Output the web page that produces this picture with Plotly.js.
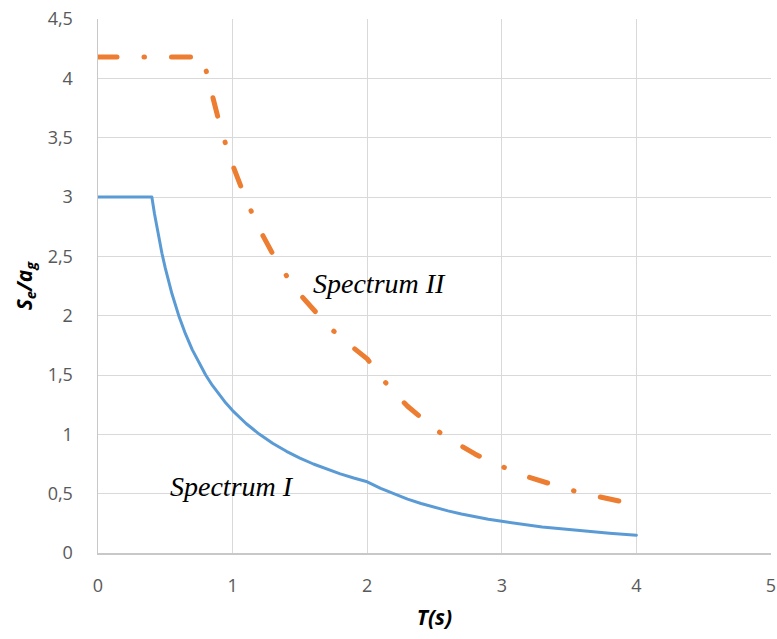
<!DOCTYPE html>
<html>
<head>
<meta charset="utf-8">
<script src="https://cdn.plot.ly/plotly-3.0.1.min.js"></script>
<style>
html, body { margin: 0; padding: 0; background: #fff; }
#chart { width: 777px; height: 639px; }
.scatterlayer .js-line { stroke-linecap: round; stroke-linejoin: round; }
</style>
</head>
<body>
<div id="chart"></div>
<script>
// Spectrum I
const periodsI = [0, 0.4, 0.42, 0.45, 0.475, 0.5, 0.55, 0.6, 0.65, 0.7, 0.75, 0.8, 0.85, 0.9, 0.95, 1.0,
  1.1, 1.2, 1.3, 1.4, 1.5, 1.6, 1.7, 1.8, 1.9, 2.0,
  2.1, 2.2, 2.3, 2.4, 2.5, 2.6, 2.7, 2.8, 2.9, 3.0, 3.1, 3.2, 3.3, 3.4, 3.5, 3.6, 3.7, 3.8, 3.9, 4.0];
const spectrumI = [3.0, 3.0, 2.857, 2.667, 2.526, 2.4, 2.182, 2.0, 1.846, 1.714, 1.6, 1.5, 1.412, 1.333, 1.263, 1.2,
  1.091, 1.0, 0.923, 0.857, 0.8, 0.75, 0.706, 0.667, 0.632, 0.6,
  0.544, 0.496, 0.454, 0.417, 0.384, 0.355, 0.329, 0.306, 0.285, 0.267, 0.25, 0.234, 0.22, 0.208, 0.196, 0.185, 0.175, 0.166, 0.158, 0.15];

// Spectrum II
const periodsII = [0, 0.78, 0.8, 0.85, 0.9, 0.95, 1.0, 1.1, 1.2, 1.3, 1.4, 1.5, 1.6, 1.7, 1.8, 1.9, 2.0,
  2.1, 2.2, 2.3, 2.4, 2.5, 2.6, 2.7, 2.8, 2.9, 3.0, 3.1, 3.2, 3.3, 3.4, 3.5, 3.6, 3.7, 3.8, 3.9, 4.0];
const spectrumII = [4.18, 4.18, 4.08, 3.84, 3.63, 3.44, 3.27, 2.975, 2.727, 2.517, 2.337, 2.181, 2.045, 1.925, 1.818, 1.722, 1.636,
  1.484, 1.352, 1.237, 1.136, 1.047, 0.968, 0.898, 0.835, 0.778, 0.727, 0.681, 0.639, 0.601, 0.566, 0.534, 0.505, 0.478, 0.453, 0.430, 0.409];

const labelI = 'Spectrum I';
const labelII = 'Spectrum II';

const traces = [
  {
    x: periodsI, y: spectrumI, type: 'scatter', mode: 'lines', name: labelI,
    line: { color: '#5B9BD5', width: 3 }
  },
  {
    x: periodsII, y: spectrumII, type: 'scatter', mode: 'lines', name: labelII,
    line: { color: '#ED7D31', width: 5, dash: '19px,27px,0.5px,27px' }
  }
];

const tickFont = { family: 'Open Sans, sans-serif', size: 18, color: '#595959' };
const titleFont = { family: 'Open Sans, sans-serif', size: 21, color: '#000000' };

const layout = {
  width: 777, height: 639,
  margin: { l: 98, r: 6, t: 19, b: 86 },
  paper_bgcolor: '#ffffff', plot_bgcolor: '#ffffff',
  separators: ', ',
  showlegend: false,
  xaxis: {
    range: [0, 5], dtick: 1, tick0: 0,
    showgrid: true, gridcolor: '#D9D9D9', gridwidth: 1,
    showline: true, linecolor: '#C8C8C8', linewidth: 1.5,
    zeroline: false, ticks: '', ticklabelstandoff: 16,
    tickfont: tickFont, fixedrange: true,
    title: { text: '<b><i>T(s)</i></b>', font: titleFont, standoff: 14 }
  },
  yaxis: {
    range: [0, 4.5], dtick: 0.5, tick0: 0,
    showgrid: true, gridcolor: '#D9D9D9', gridwidth: 1,
    showline: true, linecolor: '#C8C8C8', linewidth: 1.5,
    zeroline: false, ticks: '', ticklabelstandoff: 20,
    tickfont: tickFont, fixedrange: true,
    title: { text: '<b><i>S<sub>e</sub>/a<sub>g</sub></i></b>', font: titleFont, standoff: 9 }
  },
  annotations: [
    {
      x: 2.093, y: 2.27, xref: 'x', yref: 'y', text: '<i>' + labelII + '</i>',
      showarrow: false, xanchor: 'center', yanchor: 'middle',
      font: { family: 'Liberation Serif, Times New Roman, serif', size: 28, color: '#000000' }
    },
    {
      x: 0.993, y: 0.56, xref: 'x', yref: 'y', text: '<i>' + labelI + '</i>',
      showarrow: false, xanchor: 'center', yanchor: 'middle',
      font: { family: 'Liberation Serif, Times New Roman, serif', size: 28, color: '#000000' }
    }
  ]
};

Plotly.newPlot('chart', traces, layout, { displayModeBar: false, staticPlot: true });
</script>
</body>
</html>
